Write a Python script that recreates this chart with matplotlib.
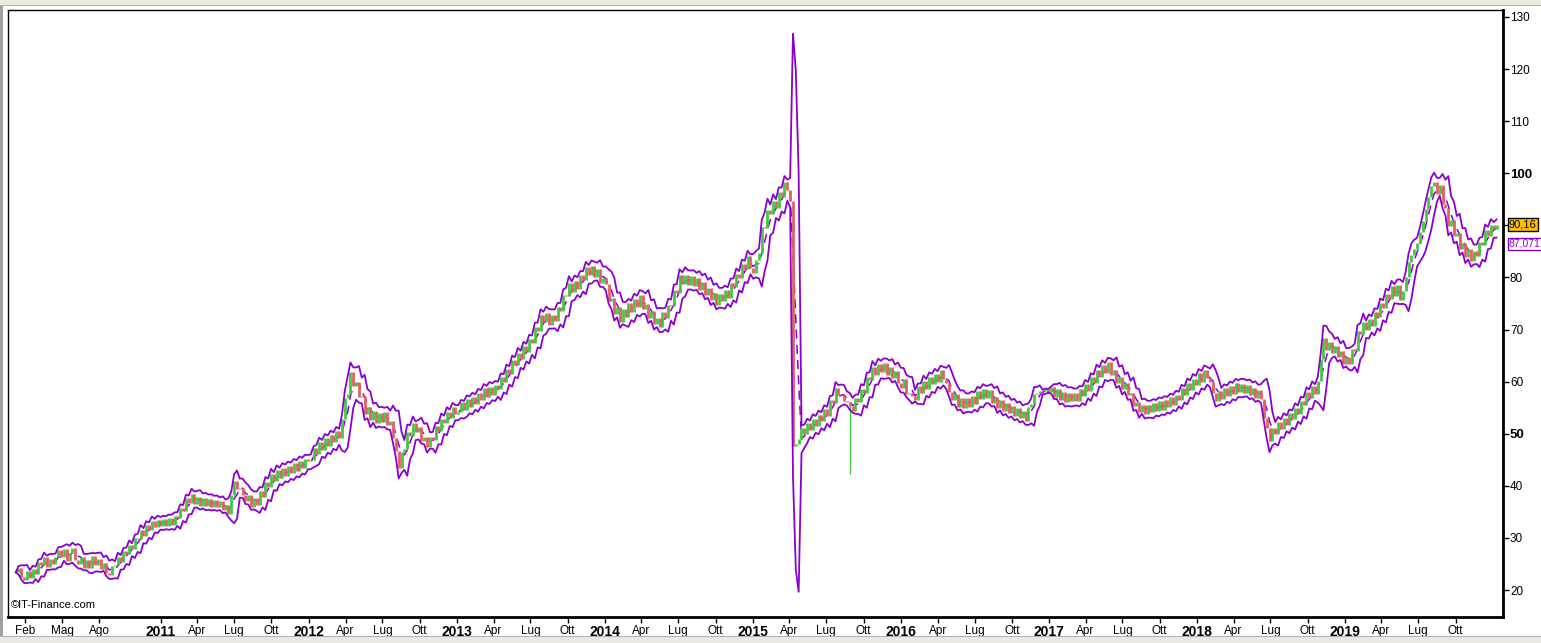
import numpy as np
import pandas as pd
import matplotlib
matplotlib.use("Agg")
import matplotlib.pyplot as plt
import matplotlib.transforms as mtransforms
from matplotlib.patches import Rectangle

# weekly closing prices (week ending Friday)
close_2010 = [23.4, 24.2, 22.5, 22.0, 23.6, 22.4, 24.0, 23.1, 25.3, 24.8, 26.3, 24.5, 26.0,
              25.0, 26.4, 27.7, 26.3, 27.9, 25.6, 27.2, 28.0, 25.8, 25.0, 26.4, 24.3, 25.7,
              24.2, 26.5, 24.8, 25.9, 24.1, 25.2, 23.3, 22.9, 24.6, 24.8, 26.4, 25.4, 27.5,
              27.0, 28.7, 27.8, 30.0, 29.7, 31.6, 30.4, 32.5, 31.5, 33.3, 32.1, 33.5, 32.3]
close_2011 = [33.6, 32.3, 33.9, 32.5, 34.2, 33.9, 35.8, 35.2, 37.6, 36.7, 38.5, 36.6, 37.9,
              36.2, 37.7, 36.1, 37.5, 36.0, 37.3, 35.9, 37.0, 35.3, 36.3, 34.6, 38.3, 40.9,
              39.4, 39.6, 38.3, 37.0, 38.2, 35.9, 37.7, 36.4, 39.1, 37.9, 40.7, 39.8, 42.2,
              40.9, 43.0, 41.5, 43.5, 41.9, 43.8, 42.4, 44.4, 42.9, 44.8, 43.4, 45.2, 44.8]
close_2012 = [45.0, 47.3, 46.2, 48.4, 46.9, 49.1, 47.6, 49.7, 48.4, 50.5, 49.1, 52.9, 56.8,
              57.6, 61.9, 59.1, 59.9, 57.0, 57.2, 53.8, 55.1, 52.6, 54.3, 52.1, 54.0, 52.3,
              54.1, 51.6, 52.4, 49.1, 46.7, 43.5, 46.4, 47.1, 50.4, 49.5, 52.0, 50.4, 51.3,
              48.7, 49.4, 47.4, 49.3, 48.8, 51.4, 50.5, 52.9, 52.0, 54.2, 53.1, 55.1, 53.8]
close_2013 = [54.1, 56.0, 54.5, 56.6, 55.1, 57.0, 55.7, 57.9, 56.5, 58.7, 57.1, 59.0, 57.4,
              59.3, 58.5, 60.9, 60.0, 62.4, 61.5, 64.1, 63.2, 65.5, 64.4, 66.8, 65.6, 68.1,
              67.5, 70.4, 69.8, 72.8, 71.5, 73.1, 70.8, 72.7, 71.6, 74.4, 73.5, 76.7, 76.5,
              78.9, 77.3, 79.4, 77.7, 80.4, 79.5, 82.0, 80.5, 82.2, 80.1, 81.7, 79.0, 79.8]
close_2014 = [78.8, 75.5, 76.1, 73.0, 74.3, 71.5, 73.9, 72.4, 75.0, 73.4, 75.9, 74.3, 76.6,
              74.0, 74.9, 72.2, 73.5, 71.0, 72.3, 70.5, 73.4, 72.2, 74.8, 74.5, 77.6, 77.1,
              80.4, 78.7, 80.5, 78.5, 80.3, 78.4, 79.8, 77.5, 79.1, 76.7, 78.0, 75.6, 77.1,
              74.8, 76.9, 75.5, 77.6, 76.1, 79.0, 78.1, 80.6, 79.8, 82.5, 81.7, 84.1, 81.8]
close_2015 = [80.9, 83.4, 84.6, 89.7, 89.5, 92.9, 92.1, 94.6, 93.3, 96.4, 95.5, 98.3, 96.8,
              94.6, 47.6, 48.1, 49.0, 51.1, 49.9, 52.1, 50.7, 52.9, 51.5, 53.6, 52.4, 54.7,
              53.5, 56.4, 55.9, 58.8, 57.4, 57.5, 56.2, 56.0, 55.3, 54.4, 56.9, 56.1, 58.6,
              57.9, 60.8, 60.3, 62.8, 61.2, 63.4, 61.9, 63.5, 61.3, 62.8, 60.7, 62.0, 59.7]
close_2016 = [58.8, 60.5, 57.6, 57.9, 57.3, 56.4, 59.1, 57.9, 60.1, 58.5, 60.9, 59.6, 61.5,
              60.0, 62.3, 60.5, 59.7, 58.1, 56.4, 57.6, 55.1, 56.8, 55.0, 56.9, 55.2, 57.3,
              55.8, 58.2, 56.6, 58.5, 56.8, 58.3, 55.9, 57.1, 54.9, 56.5, 54.4, 55.9, 53.9,
              55.4, 53.4, 54.9, 53.0, 54.4, 52.5, 55.1, 55.7, 57.7, 57.8, 58.2, 58.2, 58.5, 58.0]
close_2017 = [58.9, 57.0, 58.5, 56.4, 58.1, 56.1, 57.9, 56.2, 57.8, 56.3, 58.5, 57.3, 59.5,
              58.2, 60.8, 59.7, 62.3, 60.9, 63.1, 61.6, 63.7, 61.2, 62.3, 59.7, 60.9, 58.5,
              59.8, 57.4, 57.9, 55.3, 56.0, 54.1, 55.5, 53.7, 55.5, 54.1, 55.9, 54.4, 56.2,
              54.6, 56.4, 55.1, 57.0, 55.6, 57.5, 56.5, 58.7, 57.5, 59.8, 58.4, 60.6, 59.3]
close_2018 = [61.6, 60.0, 62.2, 60.7, 60.0, 57.8, 56.3, 58.2, 56.7, 58.7, 57.2, 59.2, 57.7,
              59.7, 58.1, 59.6, 57.8, 59.3, 57.4, 58.8, 56.9, 58.4, 56.7, 53.1, 51.1, 48.6,
              51.1, 49.9, 52.3, 51.0, 53.0, 51.6, 53.9, 52.8, 55.0, 53.8, 56.3, 55.5, 58.0,
              56.9, 59.1, 57.7, 60.1, 64.4, 68.3, 66.0, 67.7, 65.5, 66.9, 64.7, 65.9, 63.4]
close_2019 = [64.7, 63.4, 66.2, 65.9, 69.8, 69.1, 71.4, 69.9, 72.0, 70.7, 73.3, 72.4, 75.0,
              74.1, 76.9, 75.8, 78.3, 76.5, 78.5, 75.7, 77.4, 80.1, 83.0, 84.3, 85.5, 86.7,
              88.8, 90.8, 93.1, 95.4, 97.5, 98.3, 96.0, 97.8, 94.1, 93.4, 89.8, 91.1, 87.9,
              88.5, 85.5, 86.6, 83.9, 85.5, 83.1, 85.1, 84.1, 86.9, 86.3, 89.1, 88.0, 90.1]
close_2020 = [89.3, 90.16]

# flash-crash wick in August 2015
spike_date = "2015-08-28"
spike_low = 42.2

tick_dates = ["2010-02-01", "2010-05-03", "2010-08-02"]
tick_labels = ["Feb", "Mag", "Ago"]
for yr in range(2011, 2020):
    tick_dates += [f"{yr}-01-01", f"{yr}-04-01", f"{yr}-07-01", f"{yr}-10-01"]
    tick_labels += [str(yr), "Apr", "Lug", "Ott"]

y_ticks = [20, 30, 40, 50, 60, 70, 80, 90, 100, 110, 120, 130]
last_price_text = "90,16"
last_price = 90.16
mid_band_text = "87,071"
mid_band_value = 87.071

GREEN = "#44c844"
RED = "#e06262"
PURPLE = "#8a00d0"

close = np.array(close_2010 + close_2011 + close_2012 + close_2013 + close_2014 +
                 close_2015 + close_2016 + close_2017 + close_2018 + close_2019 + close_2020)
dates = pd.date_range("2010-01-08", periods=len(close), freq="7D")

s = pd.Series(close, index=dates)
mid = s.rolling(4, min_periods=1).mean()
sd = s.rolling(4, min_periods=1).std(ddof=0)
upper = mid + 2 * sd
lower = mid - 2 * sd

opens = np.r_[close[0], close[:-1]]
up = close >= opens

W, H = 1541, 643
fig = plt.figure(figsize=(W / 100, H / 100), dpi=100)
fig.patch.set_facecolor("white")

# window chrome
fig.add_artist(Rectangle((0, 1 - 5 / H), 1, 5 / H, transform=fig.transFigure,
                         fc="#ece9e2", ec="none"))
fig.add_artist(Rectangle((0, 1 - 6 / H), 1, 1 / H, transform=fig.transFigure,
                         fc="#a9b3bd", ec="none"))
fig.add_artist(Rectangle((0, 0), 1, 6 / H, transform=fig.transFigure,
                         fc="#ece9e2", ec="none"))
fig.add_artist(Rectangle((0, 6 / H), 1, 1 / H, transform=fig.transFigure,
                         fc="#a9b3bd", ec="none"))
fig.add_artist(Rectangle((0, 7 / H), 3 / W, 1 - 13 / H, transform=fig.transFigure,
                         fc="#a0a0a0", ec="none"))

ax = fig.add_axes([8 / W, 26 / H, 1495 / W, 607 / H])

ax.plot(dates, mid, color=PURPLE, lw=1.1, ls=(0, (6, 4)), zorder=1.5)
ax.vlines(dates[up], opens[up], close[up], color=GREEN, lw=2.0, zorder=2)
ax.vlines(dates[~up], opens[~up], close[~up], color=RED, lw=2.0, zorder=2)
sp = pd.Timestamp(spike_date)
ax.vlines(sp, spike_low, s[sp], color=GREEN, lw=1.0, zorder=2)

ax.plot(dates, upper, color=PURPLE, lw=1.3, zorder=3)
ax.plot(dates, lower, color=PURPLE, lw=1.3, zorder=3)

ax.set_xlim(pd.Timestamp("2009-12-20"), pd.Timestamp("2020-01-26"))
ax.set_ylim(14.82, 131.34)

ax.set_xticks(pd.to_datetime(tick_dates))
ax.set_xticklabels(tick_labels, fontsize=8.5, family="Liberation Sans")
for lab in ax.get_xticklabels():
    if lab.get_text().isdigit():
        lab.set_fontweight("bold")
        lab.set_fontsize(10)
ax.tick_params(axis="x", direction="out", length=4, width=1, pad=1.5)

ax.yaxis.tick_right()
ax.set_yticks(y_ticks)
ax.set_yticklabels(["" if v == 90 else str(v) for v in y_ticks],
                   fontsize=8.5, family="Liberation Sans")
for lab in ax.get_yticklabels():
    if lab.get_text() in ("50", "100"):
        lab.set_fontweight("bold")
        lab.set_fontsize(9.5)
ax.tick_params(axis="y", direction="out", length=4, width=1, pad=1)

for side in ("top", "left"):
    ax.spines[side].set_linewidth(1.0)
for side in ("right", "bottom"):
    ax.spines[side].set_linewidth(2.0)

trans = mtransforms.blended_transform_factory(ax.transAxes, ax.transData)
ax.text(1.004, last_price, last_price_text, transform=trans, ha="left", va="center",
        fontsize=8, family="Liberation Sans", color="black", clip_on=False, zorder=6,
        bbox=dict(boxstyle="square,pad=0.12", fc="#ffc000", ec="black", lw=1))
ax.text(1.004, mid_band_value - 0.6, mid_band_text, transform=trans, ha="left", va="center",
        fontsize=7.5, family="Liberation Sans", color=PURPLE, clip_on=False, zorder=6,
        bbox=dict(boxstyle="square,pad=0.1", fc="white", ec=PURPLE, lw=1))

ax.text(0.002, 0.012, "\u00a9IT-Finance.com", transform=ax.transAxes, ha="left",
        va="bottom", fontsize=8, family="Liberation Sans")

fig.savefig("out.png", dpi=100)
